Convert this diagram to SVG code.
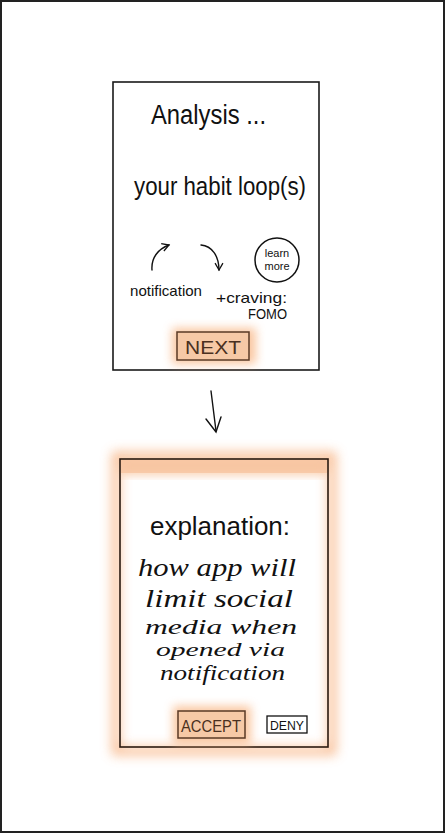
<svg xmlns="http://www.w3.org/2000/svg" width="445" height="833" viewBox="0 0 445 833">
  <defs>
    <filter id="glow" x="-30%" y="-30%" width="160%" height="160%">
      <feGaussianBlur stdDeviation="5"/>
    </filter>
    <filter id="glowSoft" x="-20%" y="-20%" width="140%" height="140%">
      <feGaussianBlur stdDeviation="6"/>
    </filter>
    <marker id="head" viewBox="0 0 10 10" refX="8" refY="5" markerWidth="7" markerHeight="7" orient="auto-start-reverse">
      <path d="M1,1 L8,5 L1,9" fill="none" stroke="#111" stroke-width="1.3"/>
    </marker>
  </defs>
  <style>
    .frame { fill: #fff; stroke: #1a1a1a; stroke-width: 1.6; }
    .hand { font-family: "Liberation Sans", "DejaVu Sans", sans-serif; fill: #111; }
    .script { font-family: "Liberation Serif", "DejaVu Serif", serif; font-style: italic; fill: #111; }
    .btn { fill: #f6c9a6; stroke: #5a3a26; stroke-width: 1.5; }
    .btntext { font-family: "Liberation Sans", "DejaVu Sans", sans-serif; fill: #4a3020; }
    .line { fill: none; stroke: #111; stroke-width: 1.4; stroke-linecap: round; }
  </style>

  <!-- page background and border -->
  <rect x="0" y="0" width="445" height="833" fill="#fff"/>
  <rect x="1" y="1" width="443" height="831" fill="none" stroke="#222" stroke-width="2"/>

  <!-- first screen: habit loop analysis -->
  <g id="analysis-screen">
    <rect class="frame" x="113" y="82" width="206" height="288"/>
    <text class="hand" x="151" y="124" font-size="27" textLength="115" lengthAdjust="spacingAndGlyphs">Analysis ...</text>
    <text class="hand" x="134" y="195" font-size="25" textLength="172" lengthAdjust="spacingAndGlyphs">your habit loop(s)</text>
    <path class="line" d="M152,270 C151,258 158,249 169,245" marker-end="url(#head)"/>
    <path class="line" d="M201,245 C212,246 219,256 219,270" marker-end="url(#head)"/>
    <text class="hand" x="130" y="296" font-size="15" textLength="72" lengthAdjust="spacingAndGlyphs">notification</text>
    <text class="hand" x="216" y="303" font-size="15" textLength="71" lengthAdjust="spacingAndGlyphs">+craving:</text>
    <text class="hand" x="248" y="319" font-size="15" textLength="39" lengthAdjust="spacingAndGlyphs">FOMO</text>
  </g>

  <g id="learn-more">
    <circle cx="277" cy="260" r="22" fill="none" stroke="#111" stroke-width="1.5"/>
    <text class="hand" x="277" y="257" font-size="11" text-anchor="middle">learn</text>
    <text class="hand" x="277" y="270" font-size="11" text-anchor="middle">more</text>
  </g>

  <g id="next-button">
    <rect x="172" y="328" width="84" height="36" fill="#f8b07a" opacity="0.7" filter="url(#glow)"/>
    <rect class="btn" x="177" y="332" width="72" height="28"/>
    <text class="btntext" x="213" y="354" font-size="19" text-anchor="middle" textLength="56" lengthAdjust="spacingAndGlyphs">NEXT</text>
  </g>

  <!-- connector between screens -->
  <g id="connectors">
    <path class="line" d="M211,391 L216,431" stroke-width="1.8"/>
    <path class="line" d="M206,419 L216,432 L221,417" stroke-width="1.8"/>
  </g>

  <!-- second screen: explanation with accept / deny -->
  <g id="explanation-screen">
    <rect x="116" y="456" width="216" height="295" fill="none" stroke="#f6a46a" stroke-width="8" opacity="0.75" filter="url(#glowSoft)"/>
    <rect x="120" y="459" width="208" height="16" fill="#f8c39a" opacity="0.8" filter="url(#glow)"/>
    <rect x="120" y="459" width="208" height="288" fill="none" stroke="#2a1a10" stroke-width="1.6"/>
    <rect x="121" y="460" width="206" height="13" fill="#f6c29c" opacity="0.7"/>
    <text class="hand" x="150" y="535" font-size="25" textLength="140" lengthAdjust="spacingAndGlyphs">explanation:</text>
    <text class="script" x="138" y="576" font-size="25" textLength="158" lengthAdjust="spacingAndGlyphs">how app will</text>
    <text class="script" x="145" y="607" font-size="25" textLength="148" lengthAdjust="spacingAndGlyphs">limit social</text>
    <text class="script" x="145" y="634" font-size="21" textLength="152" lengthAdjust="spacingAndGlyphs">media when</text>
    <text class="script" x="156" y="656" font-size="19" textLength="129" lengthAdjust="spacingAndGlyphs">opened via</text>
    <text class="script" x="160" y="680" font-size="22" textLength="125" lengthAdjust="spacingAndGlyphs">notification</text>
  </g>

  <g id="accept-button">
    <rect x="173" y="706" width="78" height="38" fill="#f8b07a" opacity="0.7" filter="url(#glow)"/>
    <rect class="btn" x="178" y="711" width="67" height="27"/>
    <text class="btntext" x="211" y="732" font-size="17" text-anchor="middle" textLength="60" lengthAdjust="spacingAndGlyphs">ACCEPT</text>
  </g>

  <g id="deny-button">
    <rect x="267" y="716" width="40" height="17" fill="#fff" stroke="#111" stroke-width="1.3"/>
    <text class="hand" x="287" y="730" font-size="12" text-anchor="middle" textLength="34" lengthAdjust="spacingAndGlyphs">DENY</text>
  </g>
</svg>
